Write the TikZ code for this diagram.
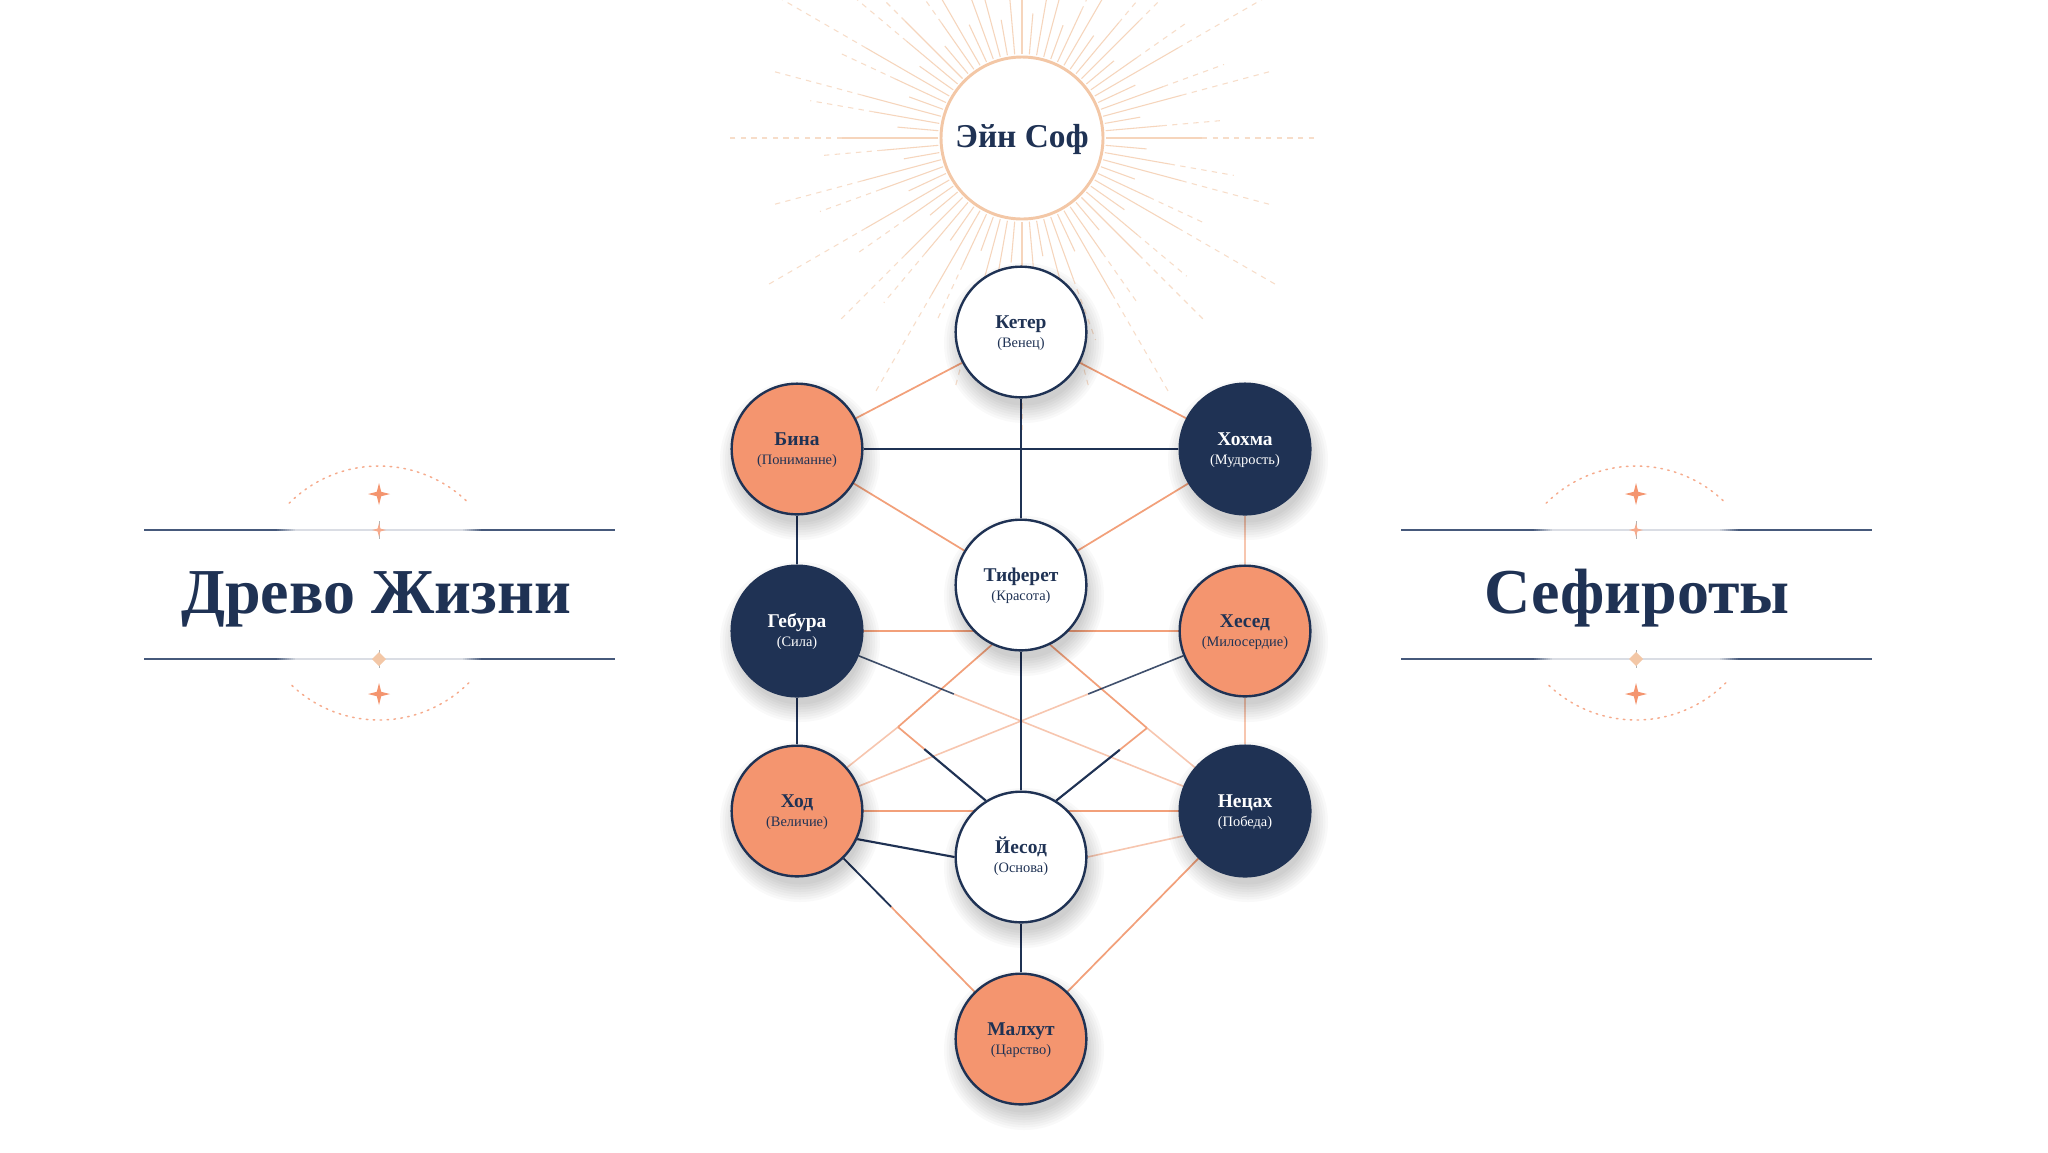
\documentclass[tikz,border=0pt]{standalone}
\usepackage{fontspec}
\setmainfont{Liberation Serif}
\usetikzlibrary{calc}
\pgfdeclarelayer{rays}\pgfdeclarelayer{bg}\pgfdeclarelayer{sh}
\pgfsetlayers{rays,bg,sh,main}
\definecolor{navy}{HTML}{1F3254}
\definecolor{orf}{HTML}{F4956F}
\definecolor{orl}{HTML}{F2A07A}
\definecolor{peach}{HTML}{F3C7A6}
\definecolor{navyl}{HTML}{46597B}
\definecolor{linel}{HTML}{DADDE4}
\tikzset{
 sef/.style={circle, draw=navy, line width=0.9pt, minimum size=49pt, inner sep=0pt},
 ttl/.style={anchor=base, font=\bfseries\fontsize{7.3}{8}\selectfont, text=navy, inner sep=0pt},
 sub/.style={anchor=base, font=\fontsize{5.4}{6}\selectfont, text=navy, inner sep=0pt},
 nline/.style={draw=navy, line width=1pt},
 oline/.style={draw=orl, line width=0.65pt},
 olight/.style={draw=orl, line width=0.6pt, opacity=0.6},
 ray/.style={draw=peach, line width=0.4pt, opacity=0.75},
 raydash/.style={draw=peach, line width=0.4pt, opacity=0.6, dash pattern=on 2pt off 2pt},
 bigtitle/.style={anchor=base, font=\bfseries\fontsize{24}{28}\selectfont, text=navy, inner sep=0pt},
 decoline/.style={draw=navyl, line width=0.7pt},
 dotarc/.style={draw=orf, line width=0.55pt, opacity=0.8, dash pattern=on 0.6pt off 2pt, line cap=round},
}
\newcommand\sefira[7]{%
 \node[sef, fill=#4] (#1) at (#2,#3) {};
 \node[ttl, text=#5] (#1-t) at ($(#1.center)+(0,-3.5)$) {#6};
 \node[sub, text=#5] (#1-s) at ($(#1.center)+(0,15)$) {#7};
}
\newcommand\fourstar[4]{%
 \fill[#4] (#1,#2-#3) -- (#1+0.2*#3,#2-0.2*#3) -- (#1+#3,#2) -- (#1+0.2*#3,#2+0.2*#3)
  -- (#1,#2+#3) -- (#1-0.2*#3,#2+0.2*#3) -- (#1-#3,#2) -- (#1-0.2*#3,#2-0.2*#3) -- cycle;
}
\newcommand\titledeco[1]{%
 \foreach \yy in {530,659}{
   \draw[decoline] (#1-235,\yy) -- (#1-104,\yy);
   \foreach \j in {0,...,9}{
     \pgfmathtruncatemacro\p{100-10*\j}
     \draw[decoline, draw=navyl!\p!linel] (#1-104+2*\j,\yy) -- (#1-102+2*\j,\yy);
     \draw[decoline, draw=navyl!\p!linel] (#1+104-2*\j,\yy) -- (#1+102-2*\j,\yy);
   }
   \draw[decoline, draw=linel] (#1-84,\yy) -- (#1+84,\yy);
   \draw[decoline] (#1+104,\yy) -- (#1+236,\yy);
 }
 \draw[dotarc] ($(#1,593)+(225:127)$) arc[start angle=225,end angle=315,radius=127];
 \draw[dotarc] ($(#1,593)+(45:127)$) arc[start angle=45,end angle=135,radius=127];
 \fourstar{#1}{494}{11}{orf}
 \fourstar{#1}{694}{11}{orf}
 \draw[gray!60, line width=0.35pt] (#1,521) -- (#1,539);
 \fourstar{#1}{530}{7}{orf!80}
 \draw[gray!60, line width=0.35pt] (#1,650) -- (#1,668);
 \fill[peach] (#1,652) -- (#1+7,659) -- (#1,666) -- (#1-7,659) -- cycle;
}
\begin{document}
\begin{tikzpicture}[x=0.375pt,y=-0.375pt]
\useasboundingbox (0,0) rectangle (2048,1152);

% Ein Sof
\node[circle, draw=peach, line width=1.1pt, fill=white, minimum size=60.75pt, inner sep=0pt] (es) at (1022,138) {};
\node[anchor=base, font=\bfseries\fontsize{12.5}{14}\selectfont, text=navy, inner sep=0pt] (es-t) at (1022,147) {Эйн Соф};

% Sefirot
\sefira{ke}{1021}{332}{white}{navy}{Кетер}{(Венец)}
\sefira{bi}{797}{449}{orf}{navy}{Бина}{(Пониманне)}
\sefira{ho}{1245}{449}{navy}{white}{Хохма}{(Мудрость)}
\sefira{ge}{797}{631}{navy}{white}{Гебура}{(Сила)}
\sefira{ti}{1021}{585}{white}{navy}{Тиферет}{(Красота)}
\sefira{he}{1245}{631}{orf}{navy}{Хесед}{(Милосердие)}
\sefira{hd}{797}{811}{orf}{navy}{Ход}{(Величие)}
\sefira{ye}{1021}{857}{white}{navy}{Йесод}{(Основа)}
\sefira{ne}{1245}{811}{navy}{white}{Нецах}{(Победа)}
\sefira{ma}{1021}{1039}{orf}{navy}{Малхут}{(Царство)}

\coordinate (kl) at (898,727);
\coordinate (kr) at (1147,728);

% titles
\node[bigtitle] (t1) at (376,613) {Древо Жизни};
\node[bigtitle] (t2) at (1637,613) {Сефироты};
\titledeco{379}
\titledeco{1636}

% rays
\begin{pgfonlayer}{rays}
\fill[white] (0,0) rectangle (2048,1152);
\foreach \i in {0,...,71}{
  \pgfmathsetmacro\a{\i*5}
  \pgfmathtruncatemacro\m{mod(\i,6)}
  \ifnum\m=0 \def\L{180}\def\R{292}\fi
  \ifnum\m=1 \def\L{125}\def\R{0}\fi
  \ifnum\m=2 \def\L{150}\def\R{215}\fi
  \ifnum\m=3 \def\L{165}\def\R{260}\fi
  \ifnum\m=4 \def\L{120}\def\R{0}\fi
  \ifnum\m=5 \def\L{140}\def\R{200}\fi
  \draw[ray] ($(es.center)+(\a:84)$) -- ($(es.center)+(\a:\L)$);
  \ifnum\R>0 \draw[raydash] ($(es.center)+(\a:\L)$) -- ($(es.center)+(\a:\R)$);\fi
}
\end{pgfonlayer}

% connectors
\begin{pgfonlayer}{bg}
\draw[oline] (ke) -- (bi);
\draw[oline] (ke) -- (ho);
\draw[oline] (bi) -- (ti);
\draw[oline] (ho) -- (ti);
\draw[olight] (ho) -- (he);
\draw[olight] (he) -- (ne);
\draw[oline] (ge.center) -- (he.center);
\draw[oline] (hd.center) -- (ne.center);
\draw[olight] ($(ge)!0.35!(ne)$) -- (ne);
\draw[olight] ($(he)!0.35!(hd)$) -- (hd);
\draw[oline] (ti.244) -- (kl);
\draw[olight] (kl) -- (hd.41);
\draw[oline] (ti.296) -- (kr);
\draw[olight] (kr) -- (ne.139);
\draw[oline] (kl) -- ($(kl)!0.3!(ye.122)$);
\draw[oline] (kr) -- ($(kr)!0.3!(ye.58)$);
\draw[olight] (ye.0) -- (ne.202);
\draw[oline] (ne) -- (ma);
\draw[oline] ($(hd)!0.42!(ma)$) -- (ma);
% navy
\draw[nline] (ke) -- (ti);
\draw[nline] (bi) -- (ho);
\draw[nline] (bi) -- (ge);
\draw[nline] (ge) -- (hd);
\draw[nline] (ti) -- (ye);
\draw[nline] (ye) -- (ma);
\draw[nline, line width=0.8pt] (hd.-25) -- (ye.180);
\draw[nline, line width=0.8pt] ($(kl)!0.3!(ye.122)$) -- (ye.122);
\draw[nline, line width=0.8pt] ($(kr)!0.3!(ye.58)$) -- (ye.58);
\draw[nline, line width=0.6pt, opacity=0.85] (ge) -- ($(ge)!0.35!(ne)$);
\draw[nline, line width=0.6pt, opacity=0.85] (he) -- ($(he)!0.35!(hd)$);
\draw[nline, line width=0.7pt] (hd) -- ($(hd)!0.42!(ma)$);
\end{pgfonlayer}

% shadows
\begin{pgfonlayer}{sh}
\foreach \n in {ke,bi,ho,ge,ti,he,hd,ye,ne,ma}{
  \foreach \k in {0,...,7}{
    \fill[black,opacity=0.022] ($(\n.center)+(3,11)$) circle[radius={80-2.5*\k}];
  }
}
\end{pgfonlayer}
\end{tikzpicture}
\end{document}
